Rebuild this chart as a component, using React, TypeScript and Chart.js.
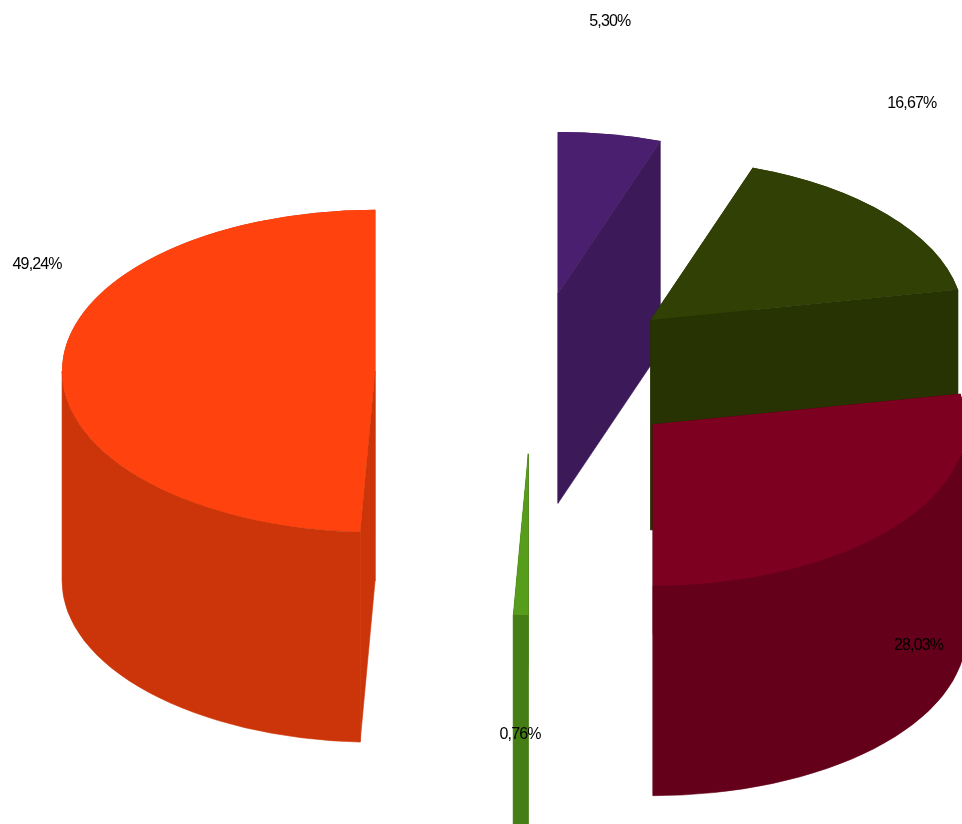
import React, { useEffect, useRef } from "react";
import { Chart, registerables } from "chart.js";

Chart.register(...registerables);

const categories = ["A", "B", "C", "D", "E"];
const values = [5.3, 16.67, 28.03, 0.76, 49.24];
const valueLabels = ["5,30%", "16,67%", "28,03%", "0,76%", "49,24%"];
const topColors = ["#4B1F6F", "#314004", "#7E0021", "#579D1C", "#FF420E"];
const sideColors = ["#3C1959", "#273303", "#65001A", "#467E16", "#CC3509"];

const WIDTH = 962;
const HEIGHT = 824;
const RADIUS = 313;
const EXPLODE = 157;
const TILT = 0.515;
const DEPTH = 210;
const LABEL_RX = 500;
const LABEL_RY = 247;
const LABEL_TOP = 265;
const LABEL_BOTTOM = 488;
const LABEL_NUDGE_X = [-5, 2, 1, 0, 5];

const pie3d = {
  id: "pie3d",
  beforeDatasetsDraw(chart: any) {
    const ctx = chart.ctx;
    const arcs = chart.getDatasetMeta(0).data;
    const items = arcs.map((arc: any, index: number) => {
      const mid = (arc.startAngle + arc.endAngle) / 2;
      const dx = Math.cos(mid) * EXPLODE;
      const dy = Math.sin(mid) * EXPLODE;
      return { arc, index, dx, dy, tipY: arc.y + dy * TILT };
    });
    items.sort((a: any, b: any) => a.tipY - b.tipY);

    for (const { arc, index, dx, dy } of items) {
      const r = arc.outerRadius;
      const tx = arc.x + dx;
      const ty = arc.y + dy * TILT;
      const ry = r * TILT;
      ctx.save();
      ctx.fillStyle = sideColors[index];
      ctx.strokeStyle = sideColors[index];
      ctx.lineWidth = 0.6;

      for (const a of [arc.startAngle, arc.endAngle]) {
        const ex = tx + Math.cos(a) * r;
        const ey = ty + Math.sin(a) * ry;
        ctx.beginPath();
        ctx.moveTo(tx, ty);
        ctx.lineTo(ex, ey);
        ctx.lineTo(ex, ey + DEPTH);
        ctx.lineTo(tx, ty + DEPTH);
        ctx.closePath();
        ctx.fill();
        ctx.stroke();
      }

      const lo = Math.max(arc.startAngle, 0);
      const hi = Math.min(arc.endAngle, Math.PI);
      if (hi > lo) {
        ctx.beginPath();
        ctx.ellipse(tx, ty, r, ry, 0, lo, hi);
        ctx.ellipse(tx, ty + DEPTH, r, ry, 0, hi, lo, true);
        ctx.closePath();
        ctx.fill();
        ctx.stroke();
      }

      // side colour under the radial edges of the top, so no seam shows through
      ctx.beginPath();
      ctx.moveTo(tx, ty);
      ctx.ellipse(tx, ty, r, ry, 0, arc.startAngle, arc.endAngle);
      ctx.closePath();
      ctx.fill();
      ctx.restore();

      ctx.save();
      ctx.translate(dx, arc.y + dy * TILT);
      ctx.scale(1, TILT);
      ctx.translate(0, -arc.y);
      arc.draw(ctx);
      ctx.restore();
    }
    return false;
  },
  afterDraw(chart: any) {
    const ctx = chart.ctx;
    const arcs = chart.getDatasetMeta(0).data;
    ctx.save();
    ctx.font = '16px "Liberation Sans", Arial, sans-serif';
    (ctx as any).letterSpacing = "-0.85px";
    ctx.fillStyle = "#000000";
    ctx.textAlign = "center";
    ctx.textBaseline = "middle";
    arcs.forEach((arc: any, index: number) => {
      const mid = (arc.startAngle + arc.endAngle) / 2;
      const c = Math.cos(mid);
      let up = -Math.sin(mid);
      if (Math.abs(up) < 0.05) up = 0;
      const x = arc.x + c * LABEL_RX + LABEL_NUDGE_X[index];
      const y = up >= 0 ? LABEL_TOP - up * LABEL_RY : LABEL_BOTTOM - up * LABEL_RY;
      ctx.fillText(valueLabels[index], x, y);
    });
    ctx.restore();
  },
};

export default function App() {
  const ref = useRef<HTMLCanvasElement | null>(null);
  useEffect(() => {
    const chart = new Chart(ref.current as HTMLCanvasElement, {
      type: "pie",
      data: {
        labels: categories,
        datasets: [
          {
            data: values,
            backgroundColor: topColors,
            borderWidth: 0,
          },
        ],
      },
      options: {
        responsive: false,
        animation: false,
        radius: RADIUS,
        layout: { padding: { left: 102, bottom: 78 } },
        plugins: { legend: { display: false }, tooltip: { enabled: false } },
      } as any,
      plugins: [pie3d],
    });
    return () => chart.destroy();
  }, []);
  return (
    <canvas
      ref={ref}
      width={WIDTH}
      height={HEIGHT}
      style={{ position: "fixed", left: 0, top: 0, width: WIDTH, height: HEIGHT, display: "block" }}
    />
  );
}
